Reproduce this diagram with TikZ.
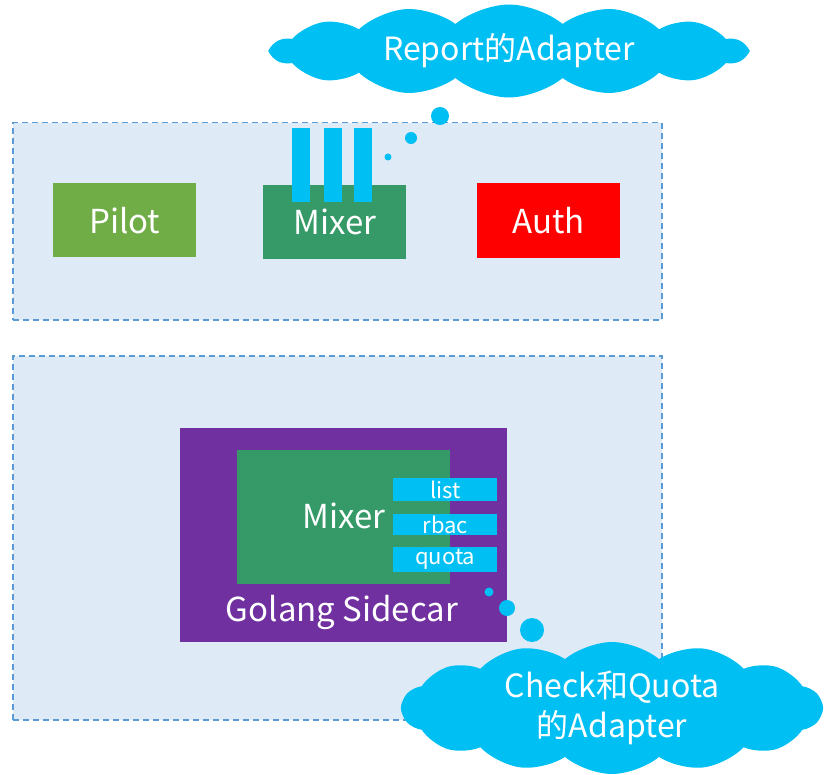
\documentclass[tikz,border=0pt]{standalone}
\usepackage{fontspec}
\setmainfont{Noto Sans CJK SC}
\usetikzlibrary{shapes.symbols, positioning}
\definecolor{panelfill}{HTML}{DEEAF6}
\definecolor{panelline}{HTML}{5B9BD5}
\definecolor{pilotgreen}{HTML}{70AD47}
\definecolor{mixergreen}{HTML}{359A68}
\definecolor{authred}{HTML}{FF0000}
\definecolor{adapterblue}{HTML}{00BFF3}
\definecolor{sidecarpurple}{HTML}{7030A0}
\tikzset{
  panel/.style={
    rectangle,
    draw=panelline, fill=panelfill,
    line width=1.5pt,
    dash pattern=on 6pt off 4pt,
    anchor=north west,
    inner sep=0pt
  },
  block/.style={
    rectangle,
    text=white,
    font=\fontsize{33}{38}\selectfont,
    inner sep=0pt,
    anchor=north west
  },
  adapter/.style={
    rectangle,
    fill=adapterblue,
    text=white,
    font=\fontsize{22}{24}\selectfont,
    minimum width=104pt,
    inner sep=0pt,
    anchor=north west
  },
  bubble/.style={
    circle,
    fill=adapterblue,
    inner sep=0pt
  },
  thought/.style={
    cloud,
    cloud puffs=14,
    cloud puff arc=80,
    cloud ignores aspect,
    fill=adapterblue,
    text=white,
    font=\fontsize{32}{40}\selectfont,
    align=center,
    inner sep=0pt
  }
}

\begin{document}
\begin{tikzpicture}[x=1pt, y=-1pt]
\useasboundingbox (0,0) rectangle (829,775);
% panels
\node[panel, minimum width=649pt, minimum height=197pt] (ctrl) at (12,122) {};
\node[panel, minimum width=649pt, minimum height=364pt] (data) at (12,355) {};

% control plane
\node[block, fill=pilotgreen, minimum width=143pt, minimum height=74pt] (pilot) at (53,183) {Pilot};
\node[block, fill=mixergreen, minimum width=143pt, minimum height=74pt] (mixer) at (263,185) {Mixer};
\node[block, fill=authred, minimum width=143pt, minimum height=75pt] (auth) at (477,183) {Auth};
\foreach \x [count=\i] in {292,324,354}
  \node[rectangle, fill=adapterblue, minimum width=18pt, minimum height=74pt, inner sep=0pt, anchor=north west] (bar\i) at (\x,128) {};

% data plane
\node[block, fill=sidecarpurple, minimum width=327pt, minimum height=214pt] (sidecar) at (180,428) {};
\node[text=white, font=\fontsize{33}{38}\selectfont] (sidecarlabel) at (342,612) {Golang Sidecar};
\node[block, fill=mixergreen, minimum width=213pt, minimum height=134pt] (inner) at (237,450) {};
\node[text=white, font=\fontsize{33}{38}\selectfont] (innerlabel) at (344,516) {Mixer};
\node[adapter, minimum height=23pt] (list) at (393,478) {list};
\node[adapter, minimum height=21pt] (rbac) at (393,514) {rbac};
\node[adapter, minimum height=25pt] (quota) at (393,547) {quota};

% thought bubbles
\node[bubble, minimum size=7pt] (r1) at (388,157) {};
\node[bubble, minimum size=12pt] (r2) at (411,138) {};
\node[bubble, minimum size=18pt] (r3) at (440,116) {};
\node[thought, minimum width=474pt, minimum height=93pt] (report) at (509,51) {Report的Adapter};

\node[bubble, minimum size=9pt] (c1) at (489,592) {};
\node[bubble, minimum size=16pt] (c2) at (507,608) {};
\node[bubble, minimum size=24pt] (c3) at (532,630) {};
\node[thought, minimum width=420pt, minimum height=132pt] (check) at (612,708) {Check和Quota\\的Adapter};

\end{tikzpicture}
\end{document}
